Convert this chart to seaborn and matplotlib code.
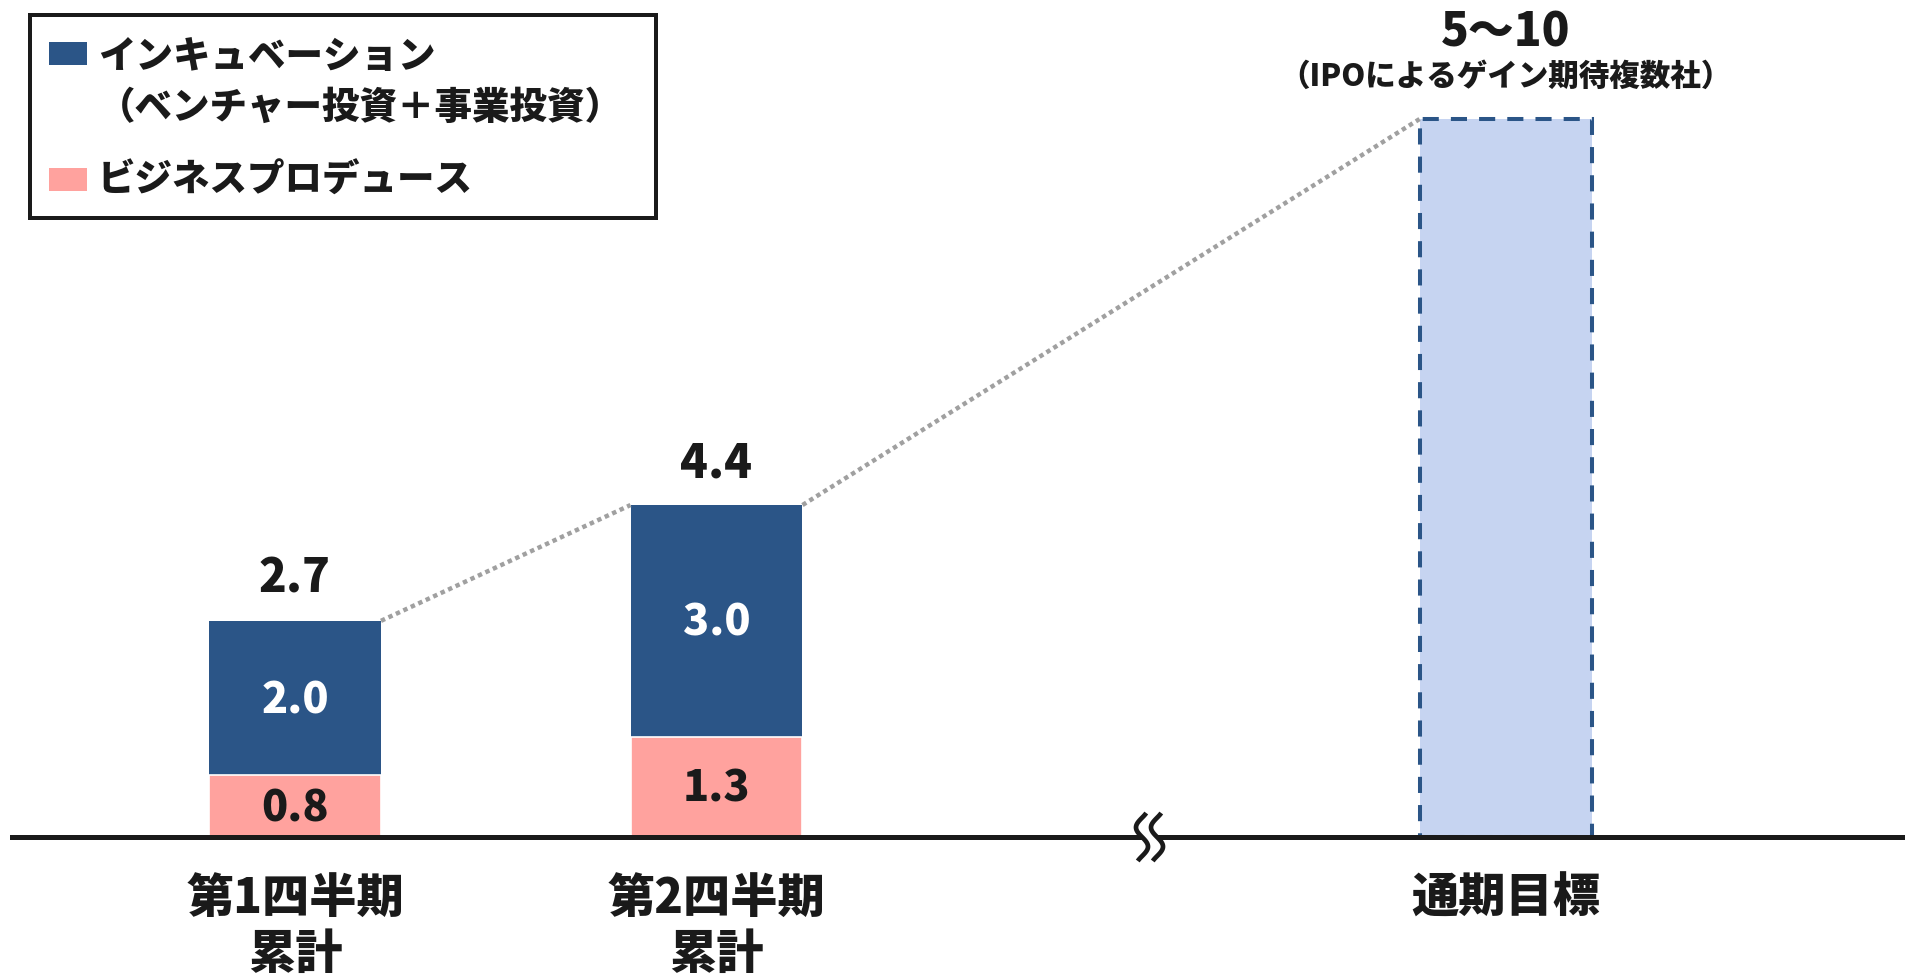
import numpy as np
import pandas as pd
import matplotlib
matplotlib.use("Agg")
import matplotlib.pyplot as plt
import matplotlib.transforms as mtransforms
from matplotlib.patches import Rectangle
import seaborn as sns

# ---- data ---------------------------------------------------------------
period_labels = ["第1四半期\n累計", "第2四半期\n累計"]
target_label = "通期目標"
produce_values = [0.8, 1.3]          # ビジネスプロデュース
incubation_values = [2.0, 3.0]      # インキュベーション
total_labels = ["2.7", "4.4"]
target_value = 9.3                  # drawn height of the full-year bar (broken axis)
target_text = "5〜10"
target_note = "（IPOによるゲイン期待複数社）"
legend_incubation = ["インキュベーション", "（ベンチャー投資＋事業投資）"]
legend_produce = "ビジネスプロデュース"

# ---- style --------------------------------------------------------------
BLUE = "#2B5587"
PINK = "#FFA29E"
LIGHT = "#C6D4F1"
DOT = "#A0A0A0"
INK = "#1A1A1A"
WEIGHT = "black"

W_PX, H_PX, DPI = 1906, 977, 100
sns.set_style("white")
plt.rcParams["font.family"] = ["Noto Sans CJK JP", "DejaVu Sans"]
plt.rcParams["font.weight"] = "bold"

fig = plt.figure(figsize=(W_PX / DPI, H_PX / DPI), dpi=DPI)
base_px = 837           # baseline, pixels from top
ax = fig.add_axes([0, (H_PX - base_px) / H_PX, 1, base_px / H_PX])

x_unit = 421.5          # pixels per category step
y_unit = 77.2           # pixels per value unit
x0_px = 295
ax.set_xlim(-x0_px / x_unit, (W_PX - x0_px) / x_unit)
ax.set_ylim(0, base_px / y_unit)

quarter_pos = [0.0, 1.0]
target_pos = 2.872
bar_w = 0.408

df = pd.DataFrame({
    "pos": quarter_pos,
    "produce": produce_values,
    "incubation": incubation_values,
})
df["stack"] = df["produce"] + df["incubation"]
tdf = pd.DataFrame({"pos": [target_pos], "value": [target_value]})

# stacked bars: full stack in blue, lower segment in pink on top
sns.barplot(data=df, x="pos", y="stack", native_scale=True, width=bar_w,
            color=BLUE, saturation=1, errorbar=None, linewidth=0, ax=ax)
sns.barplot(data=df, x="pos", y="produce", native_scale=True, width=bar_w,
            color=PINK, saturation=1, errorbar=None, edgecolor="white",
            linewidth=1.2, ax=ax)
sns.barplot(data=tdf, x="pos", y="value", native_scale=True, width=bar_w,
            color=LIGHT, saturation=1, errorbar=None, edgecolor=BLUE,
            linewidth=2.9, linestyle=(0, (4, 3)), ax=ax)

# dotted connectors between bar tops
stacks = df["stack"].tolist()
dot_kw = dict(color=DOT, lw=3.2, ls=(0, (1, 0.85)), dash_capstyle="butt", zorder=3)
ax.plot([quarter_pos[0] + bar_w / 2, quarter_pos[1] - bar_w / 2],
        [stacks[0], stacks[1]], **dot_kw)
ax.plot([quarter_pos[1] + bar_w / 2, target_pos - bar_w / 2],
        [stacks[1], target_value], **dot_kw)

px2pt = 72 / DPI
# value labels
for x, p, inc, tot, top in zip(quarter_pos, produce_values, incubation_values,
                               total_labels, stacks):
    ax.annotate(f"{p:.1f}", xy=(x, p / 2), xytext=(0, -15 * px2pt),
                textcoords="offset points", ha="center", va="baseline",
                fontsize=31, fontweight=WEIGHT, color=INK, zorder=5)
    ax.annotate(f"{inc:.1f}", xy=(x, p + inc / 2), xytext=(0, -15 * px2pt),
                textcoords="offset points", ha="center", va="baseline",
                fontsize=31, fontweight=WEIGHT, color="white", zorder=5)
    ax.annotate(tot, xy=(x, top), xytext=(0, 28 * px2pt),
                textcoords="offset points", ha="center", va="baseline",
                fontsize=33, fontweight=WEIGHT, color=INK, zorder=5)

ax.annotate(target_text, xy=(target_pos, target_value), xytext=(0, 73 * px2pt),
            textcoords="offset points", ha="center", va="baseline",
            fontsize=33, fontweight=WEIGHT, color=INK, annotation_clip=False)
ax.annotate(target_note, xy=(target_pos, target_value), xytext=(0, 33 * px2pt),
            textcoords="offset points", ha="center", va="baseline",
            fontsize=22, fontweight=WEIGHT, color=INK, annotation_clip=False)

# axes: only the baseline remains
for side in ("left", "right", "top"):
    ax.spines[side].set_visible(False)
ax.spines["bottom"].set_linewidth(5 * px2pt)
ax.spines["bottom"].set_color(INK)
ax.spines["bottom"].set_bounds((12 - x0_px) / x_unit, ax.get_xlim()[1])
ax.spines["bottom"].set_zorder(3)
ax.set_yticks([])
ax.set_xticks(quarter_pos + [target_pos])
ax.set_xticklabels(period_labels + [target_label], fontsize=34,
                   fontweight=WEIGHT, color=INK)
for t in ax.get_xticklabels():
    t.set_linespacing(1.2)
ax.tick_params(axis="x", length=0, pad=27)
ax.set_xlabel("")
ax.set_ylabel("")

# axis-break mark on the baseline
break_x = (1149.5 - x0_px) / x_unit
brk = mtransforms.Affine2D() + mtransforms.ScaledTranslation(break_x, 0, ax.transData)
s = np.linspace(-1, 1, 60)
ax.plot([-7.5, 7.5], [0, 0], color="white", lw=6 * px2pt, transform=brk,
        clip_on=False, zorder=4, solid_capstyle="butt")
for off in (-7.5, 7.5):
    ax.plot(off + 6 * np.sin(1.25 * np.pi * s), -24 * s, color=INK,
            lw=4.7 * px2pt, transform=brk, clip_on=False, zorder=5,
            solid_capstyle="butt")

# legend box
def fx(px):
    return px / W_PX


def fy(px):
    return 1 - px / H_PX


fig.add_artist(Rectangle((fx(30), fy(218)), fx(656) - fx(30), fy(15) - fy(218),
                         transform=fig.transFigure, fill=False, ec=INK,
                         lw=4 * px2pt, zorder=10))
fig.add_artist(Rectangle((fx(49), fy(65)), fx(87) - fx(49), fy(42) - fy(65),
                         transform=fig.transFigure, fc=BLUE, ec="none", zorder=10))
fig.add_artist(Rectangle((fx(49), fy(191)), fx(87) - fx(49), fy(168) - fy(191),
                         transform=fig.transFigure, fc=PINK, ec="none", zorder=10))
fig.text(fx(98), fy(68), legend_incubation[0], fontsize=27, fontweight=WEIGHT,
         color=INK, va="baseline", ha="left")
fig.text(fx(98), fy(119), legend_incubation[1], fontsize=27, fontweight=WEIGHT,
         color=INK, va="baseline", ha="left")
fig.text(fx(98), fy(192), legend_produce, fontsize=27, fontweight=WEIGHT,
         color=INK, va="baseline", ha="left")

fig.savefig("out.png", dpi=DPI, facecolor="white")
